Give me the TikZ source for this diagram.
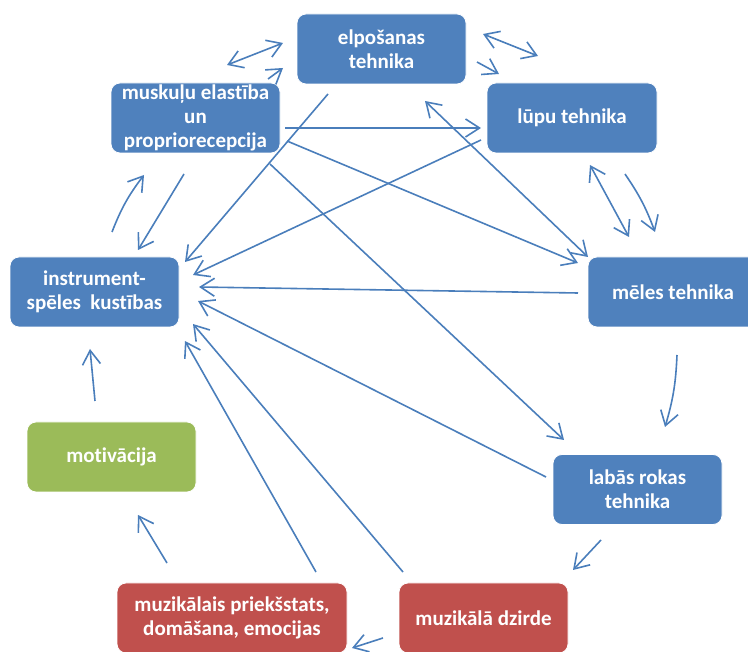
\documentclass[tikz,border=0pt]{standalone}
\usepackage{fontspec}
\setmainfont{Carlito}[Ligatures={NoCommon}]
\usetikzlibrary{arrows.meta}
\definecolor{boxblue}{HTML}{4F81BD}
\definecolor{boxgreen}{HTML}{9BBB59}
\definecolor{boxred}{HTML}{C0504D}
\definecolor{linec}{HTML}{4A7EBB}
\tikzset{
  box/.style={rectangle, rounded corners=9pt, draw=white, line width=0.8pt, text=white,
    font=\fontsize{21}{24}\selectfont\bfseries, align=center, inner sep=0pt,
    minimum width=169pt, minimum height=70pt},
  bluebox/.style={box, fill=boxblue},
  greenbox/.style={box, fill=boxgreen},
  redbox/.style={box, fill=boxred},
  arr/.style={draw=linec, line width=1.6pt, -{Straight Barb[length=14pt,width=18pt]}},
  darr/.style={draw=linec, line width=1.6pt, {Straight Barb[length=14pt,width=18pt]}-{Straight Barb[length=14pt,width=18pt]}}
}
\begin{document}
\begin{tikzpicture}[x=1pt,y=-1pt]
\useasboundingbox (0,0) rectangle (748,652);
\clip (0,0) rectangle (748,652);
% nodes
\node[bluebox] (elp) at (381.5,49) {elpošanas\\tehnika};
\node[bluebox] (musk) at (195.5,118) {muskuļu elastība\\un\\propriorecepcija};
\node[bluebox, minimum width=170pt] (lupu) at (572,118) {lūpu tehnika};
\node[bluebox] (instr) at (94.5,292) {instrument-\\spēles\ \ kustības};
\node[bluebox, minimum width=170pt] (meles) at (673,292) {mēles tehnika};
\node[bluebox] (labas) at (637.5,489.5) {labās rokas\\tehnika};
\node[greenbox] (motiv) at (111.5,457) {motivācija};
\node[redbox, minimum width=230pt] (muzl) at (232,618) {muzikālais priekšstats,\\domāšana, emocijas};
\node[redbox] (muzd) at (483.5,618) {muzikālā dzirde};
% connector end points
\coordinate (a1s) at (227,65);  \coordinate (a1e) at (283,43);
\coordinate (a2s) at (268,79);  \coordinate (a2e) at (283,68);
\coordinate (a3s) at (483,34);  \coordinate (a3e) at (538,56);
\coordinate (a4s) at (477,62);  \coordinate (a4e) at (499,74);
\coordinate (a5s) at (590,165); \coordinate (a5e) at (629,237);
\coordinate (a6s) at (625,174); \coordinate (a6e) at (655,232);
\coordinate (a7s) at (677,355); \coordinate (a7e) at (665,427);
\coordinate (a8s) at (601,540); \coordinate (a8e) at (573,570);
\coordinate (a9s) at (383,638); \coordinate (a9e) at (352,648);
\coordinate (a10s) at (167,563); \coordinate (a10e) at (138,515);
\coordinate (a11s) at (95,401); \coordinate (a11e) at (90,349);
\coordinate (a12s) at (112,232); \coordinate (a12e) at (144,175);
\coordinate (a13s) at (184,174); \coordinate (a13e) at (138,250);
\coordinate (b1s) at (328,94);  \coordinate (b1e) at (185,262);
\coordinate (b2s) at (481,140); \coordinate (b2e) at (193,275);
\coordinate (b3s) at (578,293); \coordinate (b3e) at (199,287);
\coordinate (b4s) at (546,477); \coordinate (b4e) at (198,301);
\coordinate (b5s) at (403,572); \coordinate (b5e) at (193,324);
\coordinate (b6s) at (316,572); \coordinate (b6e) at (185,341);
\coordinate (c1s) at (285,128); \coordinate (c1e) at (481,128);
\coordinate (c2s) at (287,141); \coordinate (c2e) at (578,263);
\coordinate (c3s) at (425,101); \coordinate (c3e) at (588,257);
\coordinate (c4s) at (270,164); \coordinate (c4e) at (564,440);
% cycle arrows
\draw[darr] (a1s) -- (a1e);
\draw[arr] (a2s) -- (a2e);
\draw[darr] (a3s) -- (a3e);
\draw[arr] (a4s) -- (a4e);
\draw[darr] (a5s) -- (a5e);
\draw[arr] (a6s) to[bend left=7] (a6e);
\draw[arr] (a7s) to[bend left=7] (a7e);
\draw[arr] (a8s) -- (a8e);
\draw[arr] (a9s) -- (a9e);
\draw[arr] (a10s) -- (a10e);
\draw[arr] (a11s) -- (a11e);
\draw[arr] (a12s) to[bend left=8] (a12e);
\draw[arr] (a13s) -- (a13e);
% converging on instrument
\draw[arr] (b1s) -- (b1e);
\draw[arr] (b2s) -- (b2e);
\draw[arr] (b3s) -- (b3e);
\draw[arr] (b4s) -- (b4e);
\draw[arr] (b5s) -- (b5e);
\draw[arr] (b6s) -- (b6e);
% crossing
\draw[arr] (c1s) -- (c1e);
\draw[arr] (c2s) -- (c2e);
\draw[darr] (c3s) -- (c3e);
\draw[arr] (c4s) -- (c4e);
\end{tikzpicture}
\end{document}
